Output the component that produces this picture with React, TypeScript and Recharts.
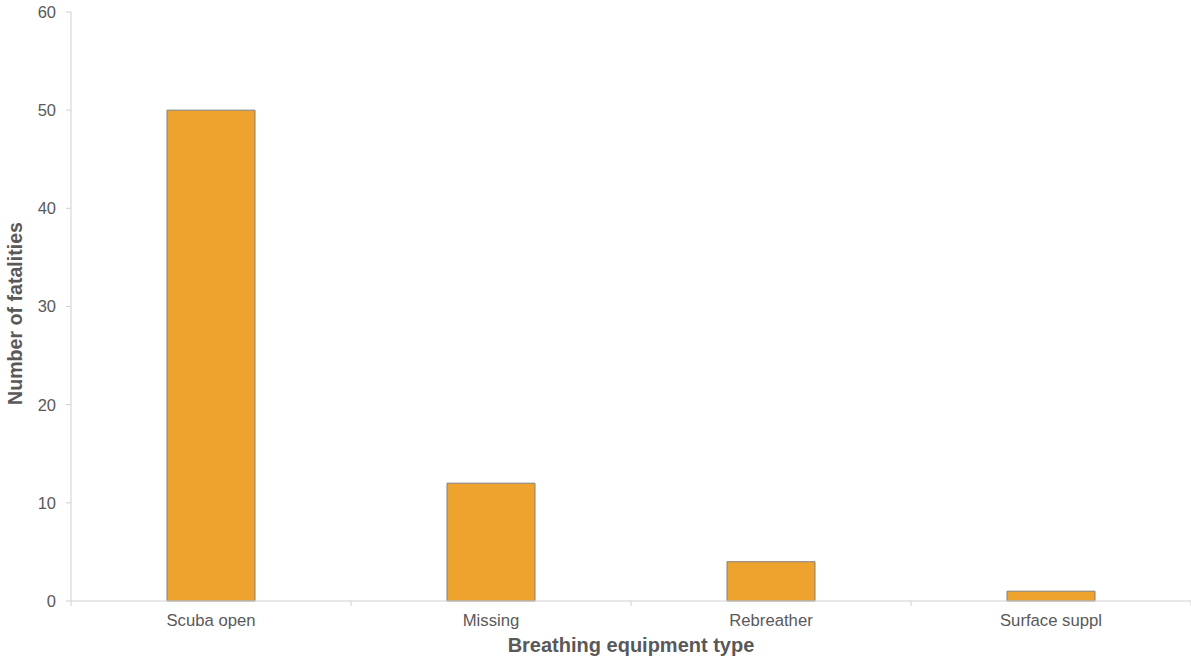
import { BarChart, Bar, XAxis, YAxis } from 'recharts';

const categories = ['Scuba open', 'Missing', 'Rebreather', 'Surface suppl'];
const fatalities = [50, 12, 4, 1];
const yTicks = [0, 10, 20, 30, 40, 50, 60];

const chartData = categories.map((name, i) => ({ name, value: fatalities[i] }));

const TEXT = '#595959';
const AXIS = '#d0d0d0';

// Excel style: tick marks sit between categories, labels at the centre
const CategoryTick = (props: any) => {
  const { x, y, payload, index } = props;
  const half = 140;
  return (
    <g>
      {index === 0 && <line x1={x - half} y1={y - 8} x2={x - half} y2={y - 3} stroke={AXIS} />}
      <line x1={x + half} y1={y - 8} x2={x + half} y2={y - 3} stroke={AXIS} />
      <text x={x} y={y + 17} textAnchor="middle" fill={TEXT} fontSize={16.7}>
        {payload.value}
      </text>
    </g>
  );
};

export default function App() {
  return (
    <div style={{ position: 'absolute', left: 0, top: 0, fontFamily: '"Liberation Sans", Arial, sans-serif' }}>
      <BarChart
        width={1191}
        height={662}
        data={chartData}
        margin={{ top: 12, right: 0, bottom: 0, left: 0 }}
      >
        <XAxis
          dataKey="name"
          height={61}
          axisLine={{ stroke: AXIS }}
          tickLine={false}
          tick={<CategoryTick />}
          interval={0}
          label={{
            value: 'Breathing equipment type',
            position: 'insideBottom',
            offset: 10,
            fill: TEXT,
            fontSize: 20,
            fontWeight: 'bold',
          }}
        />
        <YAxis
          width={71}
          domain={[0, 60]}
          ticks={yTicks}
          interval={0}
          axisLine={{ stroke: AXIS }}
          tickLine={{ stroke: AXIS }}
          tickSize={5}
          tickMargin={10}
          tick={{ fill: TEXT, fontSize: 16.5 }}
          label={{
            value: 'Number of fatalities',
            angle: -90,
            position: 'insideLeft',
            offset: 15,
            dy: 7,
            fill: TEXT,
            fontSize: 19.6,
            fontWeight: 'bold',
            style: { textAnchor: 'middle' },
          }}
        />
        <Bar
          dataKey="value"
          barSize={88}
          fill="#EFA32F"
          stroke="#808080"
          strokeWidth={1}
          isAnimationActive={false}
        />
      </BarChart>
    </div>
  );
}
